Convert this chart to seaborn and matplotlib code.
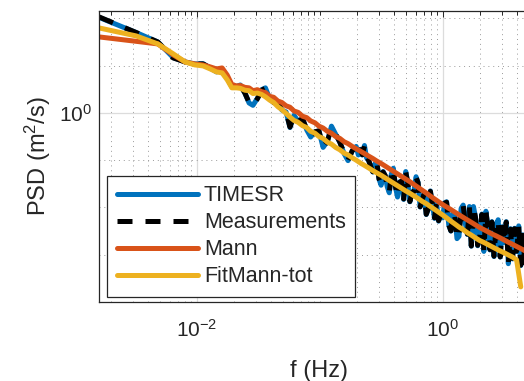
import numpy as np
import pandas as pd
import matplotlib
matplotlib.use("Agg")
import matplotlib.pyplot as plt
import seaborn as sns
from matplotlib.ticker import FixedLocator, NullFormatter, LogFormatterMathtext

# ---------------- data ----------------
# frequency grid for the two model curves
freq_hz = [0.0016, 0.0032, 0.0048, 0.0064, 0.008, 0.0096, 0.0112, 0.0128, 0.0144, 0.016, 0.0176, 0.0192,
           0.021, 0.0225, 0.0245, 0.0265, 0.0285, 0.031, 0.0335, 0.036, 0.039, 0.042,
           0.0455, 0.049, 0.053, 0.057, 0.0615, 0.0665, 0.072, 0.078, 0.084, 0.091,
           0.098, 0.106, 0.115, 0.124, 0.134, 0.145, 0.157, 0.169, 0.183, 0.197,
           0.213, 0.23, 0.249, 0.269, 0.29, 0.314, 0.339, 0.366, 0.395, 0.427,
           0.461, 0.498, 0.538, 0.581, 0.627, 0.677, 0.731, 0.79, 0.853, 0.921,
           0.995, 1.07, 1.16, 1.25, 1.35, 1.46, 1.58, 1.7, 1.84, 1.99,
           2.15, 2.32, 2.5, 2.7, 2.92, 3.15, 3.4, 3.68, 3.97, 4.29,
           4.63, 5.0]

# denser frequency grid for measured / TIMESR spectra
freq_meas_hz = [0.0016, 0.0032, 0.0048, 0.0064, 0.008, 0.0096, 0.0112, 0.0128, 0.0144, 0.016, 0.0176, 0.0192,
                0.021, 0.0225, 0.0245, 0.0265, 0.0285, 0.031, 0.0335, 0.036, 0.039, 0.042,
                0.0455, 0.049, 0.053, 0.057, 0.0615, 0.0665, 0.072, 0.078, 0.084, 0.091,
                0.098, 0.106, 0.115, 0.124, 0.134, 0.145, 0.157, 0.169, 0.183,
                0.197, 0.205, 0.213, 0.221, 0.23, 0.239, 0.249, 0.259, 0.269, 0.279,
                0.29, 0.302, 0.314, 0.326, 0.339, 0.352, 0.366, 0.380, 0.395, 0.411,
                0.427, 0.444, 0.461, 0.479, 0.498, 0.518, 0.538, 0.559, 0.581, 0.604,
                0.627, 0.652, 0.677, 0.704, 0.731, 0.760, 0.79, 0.821, 0.853, 0.886,
                0.921, 0.957, 0.995, 1.03, 1.07, 1.115, 1.16, 1.205, 1.25, 1.30,
                1.35, 1.405, 1.46, 1.52, 1.58, 1.64, 1.7, 1.77, 1.84, 1.915,
                1.99, 2.07, 2.15, 2.235, 2.32, 2.41, 2.5, 2.6, 2.7, 2.81,
                2.92, 3.03, 3.15, 3.27, 3.4, 3.54, 3.68, 3.82, 3.97, 4.13,
                4.29, 4.46, 4.63, 4.81, 5.0]

# PSD values stored as log10(PSD [m^2/s])
meas_log10 = [2.03, 1.70, 1.50, 1.163, 1.078, 1.036, 1.036, 0.951, 0.867, 0.90, 0.75, 0.55,
              0.56, 0.58, 0.42, 0.22, 0.16, 0.30, 0.48, 0.52, 0.30, 0.22,
              0.20, 0.06, 0.02, -0.30, -0.05, -0.18, -0.12, -0.35, -0.50, -0.40,
              -0.38, -0.72, -0.60, -0.30, -0.45, -0.62, -0.85, -1.00, -0.80,
              -0.72, -0.885, -0.78, -0.885, -0.70, -0.94, -1.005, -1.14, -1.245, -1.09,
              -1.05, -1.395, -1.52, -1.25, -1.325, -1.55, -1.68, -1.31, -1.185, -1.56,
              -1.77, -1.47, -1.445, -1.82, -1.25, -1.48, -1.875, -1.685, -1.665, -1.365,
              -1.475, -1.985, -1.835, -1.715, -2.145, -2.03, -1.66, -1.94, -2.22, -1.90,
              -2.28, -2.16, -2.22, -1.915, -1.89, -2.37, -2.495, -2.12, -2.20, -2.65,
              -2.605, -2.03, -1.96, -2.34, -2.565, -1.99, -2.815, -1.99, -2.22, -2.80,
              -2.625, -2.15, -2.92, -2.09, -2.415, -2.89, -2.31, -3.03, -2.40, -2.27,
              -3.045, -2.42, -2.74, -2.31, -3.185, -2.46, -3.08, -2.45, -2.925, -2.40,
              -3.22, -2.59, -3.165, -2.59, -3.06]

timesr_log10 = [2.02, 1.70, 1.50, 1.17, 1.078, 1.036, 1.04, 0.951, 0.867, 0.91, 0.75, 0.55,
                0.56, 0.59, 0.42, 0.21, 0.16, 0.31, 0.49, 0.53, 0.30, 0.22,
                0.20, 0.06, 0.02, -0.31, -0.05, -0.18, -0.12, -0.36, -0.51, -0.40,
                -0.38, -0.73, -0.60, -0.28, -0.45, -0.62, -0.86, -1.01, -0.80,
                -0.71, -0.89, -0.77, -0.89, -0.69, -0.95, -1.01, -1.15, -1.25, -1.08,
                -1.04, -1.40, -1.53, -1.24, -1.33, -1.56, -1.69, -1.30, -1.17, -1.57,
                -1.78, -1.46, -1.44, -1.83, -1.24, -1.49, -1.88, -1.68, -1.66, -1.35,
                -1.47, -1.99, -1.83, -1.71, -2.15, -2.03, -1.65, -1.94, -2.23, -1.89,
                -2.29, -2.16, -2.22, -1.90, -1.88, -2.38, -2.50, -2.11, -2.20, -2.66,
                -2.61, -2.02, -1.95, -2.34, -2.57, -1.98, -2.82, -1.98, -2.22, -2.81,
                -2.63, -2.14, -2.93, -2.08, -2.41, -2.90, -2.30, -3.04, -2.39, -2.26,
                -3.05, -2.41, -2.74, -2.30, -3.19, -2.45, -3.09, -2.44, -2.93, -2.39,
                -3.23, -2.58, -3.17, -2.58, -3.07]

mann_log10 = [1.607, 1.514, 1.459, 1.226, 1.078, 1.036, 1.015, 0.973, 0.930, 0.951, 0.800, 0.600,
              0.57, 0.58, 0.54, 0.53, 0.47, 0.49, 0.45, 0.43, 0.35, 0.33,
              0.25, 0.22, 0.15, 0.12, 0.04, 0.01, -0.07, -0.10, -0.17, -0.21,
              -0.28, -0.32, -0.39, -0.43, -0.50, -0.54, -0.61, -0.65, -0.71, -0.76,
              -0.81, -0.86, -0.915, -0.965, -1.02, -1.07, -1.125, -1.18, -1.235, -1.29,
              -1.345, -1.40, -1.455, -1.515, -1.575, -1.635, -1.695, -1.76, -1.82, -1.88,
              -1.94, -1.99, -2.045, -2.10, -2.155, -2.21, -2.265, -2.315, -2.37, -2.425,
              -2.47, -2.515, -2.56, -2.60, -2.645, -2.69, -2.735, -2.78, -2.825, -2.87,
              -2.915, -2.96]

fitmann_log10 = [1.797, 1.628, 1.459, 1.25, 1.078, 1.015, 0.994, 0.93, 0.867, 0.846, 0.70, 0.53,
                 0.53, 0.52, 0.48, 0.47, 0.41, 0.42, 0.39, 0.34, 0.27, 0.22,
                 0.13, 0.07, -0.01, -0.09, -0.16, -0.20, -0.27, -0.31, -0.39, -0.43,
                 -0.50, -0.54, -0.62, -0.66, -0.73, -0.78, -0.85, -0.89, -0.95, -1.00,
                 -1.06, -1.11, -1.165, -1.22, -1.27, -1.32, -1.375, -1.43, -1.485, -1.54,
                 -1.595, -1.65, -1.70, -1.755, -1.81, -1.87, -1.92, -1.98, -2.04, -2.10,
                 -2.16, -2.22, -2.29, -2.35, -2.415, -2.47, -2.535, -2.585, -2.645, -2.70,
                 -2.74, -2.785, -2.83, -2.875, -2.92, -2.96, -3.005, -3.05, -3.11, -3.68]

series_names = ["TIMESR", "Measurements", "Mann", "FitMann-tot"]
series_colors = ["#0072BD", "#000000", "#D95319", "#EDB120"]

x_major_ticks = [1e-2, 1e0]
y_major_ticks = [1e0]
y_minor_ticks = [1e-4, 1e-3, 1e-2, 1e-1, 1e1, 1e2]

# ---------------- styling ----------------
sns.set_style("white")
plt.rcParams["font.family"] = ["Liberation Sans", "DejaVu Sans"]
plt.rcParams["mathtext.fontset"] = "custom"
plt.rcParams["mathtext.rm"] = "Liberation Sans"
plt.rcParams["mathtext.it"] = "Liberation Sans:italic"
plt.rcParams["mathtext.bf"] = "Liberation Sans:bold"
plt.rcParams["mathtext.default"] = "regular"

fig = plt.figure(figsize=(5.24, 3.81), dpi=100)
ax = fig.add_axes([99 / 524, 1 - 302 / 381, 441 / 524, 291 / 381])

lw = 3.6
all_series = [(freq_meas_hz, timesr_log10), (freq_meas_hz, meas_log10),
              (freq_hz, mann_log10), (freq_hz, fitmann_log10)]
for name, col, (fr, vals) in zip(series_names, series_colors, all_series):
    df = pd.DataFrame({"f": fr[:len(vals)], "psd": np.power(10.0, vals)})
    sns.lineplot(data=df, x="f", y="psd", ax=ax, color=col, lw=lw,
                 label=name, estimator=None, sort=False)
    line = ax.lines[-1]
    if name == "Measurements":
        line.set_dashes((3.0, 2.6))
        line.set_dash_capstyle("butt")

ax.set_xscale("log")
ax.set_yscale("log")
ax.set_xlim(10 ** -2.797, 10 ** 0.789)
ax.set_ylim(1e-4, 143)

x_minor = [k * 10.0 ** n for n in range(-3, 1) for k in range(1, 10)
           if not (k == 1 and n in (-2, 0))]
ax.xaxis.set_major_locator(FixedLocator(x_major_ticks))
ax.xaxis.set_minor_locator(FixedLocator(x_minor))
ax.xaxis.set_major_formatter(LogFormatterMathtext())
ax.xaxis.set_minor_formatter(NullFormatter())
ax.yaxis.set_major_locator(FixedLocator(y_major_ticks))
ax.yaxis.set_minor_locator(FixedLocator(y_minor_ticks))
ax.yaxis.set_major_formatter(LogFormatterMathtext())
ax.yaxis.set_minor_formatter(NullFormatter())

ax.set_axisbelow(True)
ax.grid(which="major", color="#dcdcdc", lw=0.9, ls="-")
ax.grid(which="minor", color="#9a9a9a", lw=0.7, ls=(0, (1, 4)))

for s in ax.spines.values():
    s.set_color("#262626")
    s.set_linewidth(0.9)
ax.spines["right"].set_visible(False)

ax.tick_params(which="both", direction="in", top=True, right=True, colors="#262626",
               width=0.7, labelsize=15)
ax.tick_params(which="major", length=4)
ax.tick_params(which="minor", length=2.8)
ax.tick_params(axis="x", which="major", pad=12)
ax.tick_params(axis="y", which="major", pad=5)

ax.set_xlabel("f (Hz)", fontsize=17, color="#262626", labelpad=14)
ax.set_ylabel("PSD (m$^2$/s)", fontsize=17, color="#262626", labelpad=4)

leg = ax.legend(loc="lower left", bbox_to_anchor=(0.018, 0.017), borderaxespad=0,
                fontsize=15.5, handlelength=3.8, handletextpad=0.25, labelspacing=0.28,
                borderpad=0.45, fancybox=False, framealpha=1, edgecolor="#262626")
leg.get_frame().set_linewidth(0.9)

fig.savefig("out.png", dpi=100)
